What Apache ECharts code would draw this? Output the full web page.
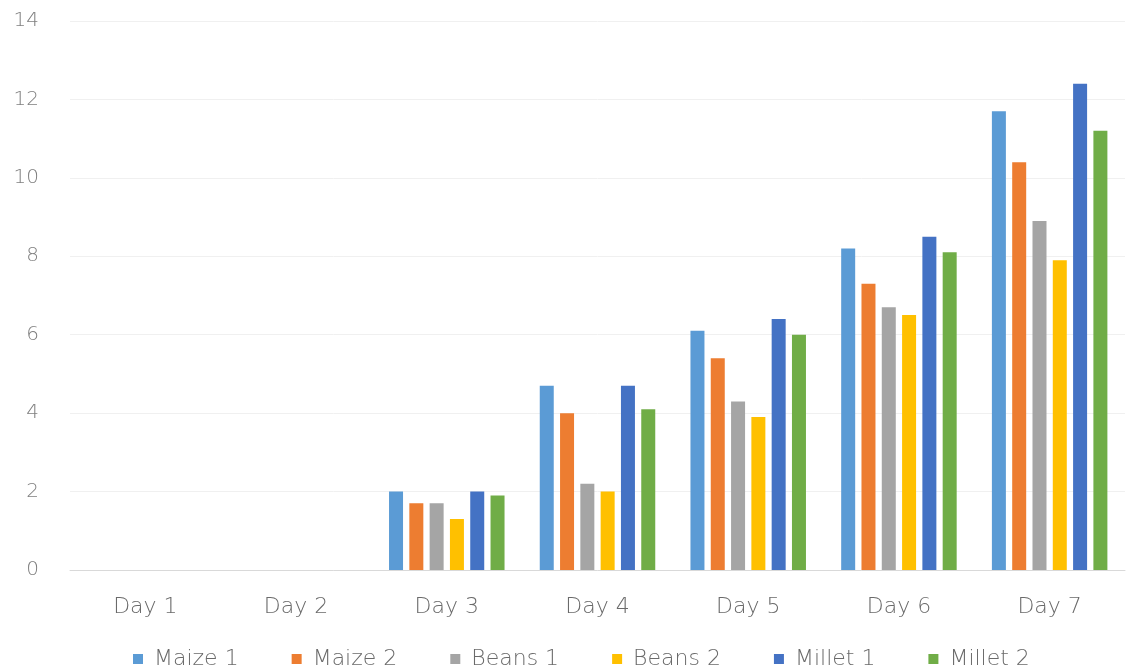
<!DOCTYPE html>
<html>
<head>
<meta charset="utf-8">
<script src="https://cdn.jsdelivr.net/npm/echarts@6/dist/echarts.min.js"></script>
<style>
  html, body { margin: 0; padding: 0; background: #fff; }
  #chart { width: 1126px; height: 667px; }
</style>
</head>
<body>
<div id="chart"></div>
<script>
// Crop growth (cm) over one week
const days = ['Day 1', 'Day 2', 'Day 3', 'Day 4', 'Day 5', 'Day 6', 'Day 7'];
const maize1  = [0, 0, 2.0, 4.7, 6.1, 8.2, 11.7];
const maize2  = [0, 0, 1.7, 4.0, 5.4, 7.3, 10.4];
const beans1  = [0, 0, 1.7, 2.2, 4.3, 6.7, 8.9];
const beans2  = [0, 0, 1.3, 2.0, 3.9, 6.5, 7.9];
const millet1 = [0, 0, 2.0, 4.7, 6.4, 8.5, 12.4];
const millet2 = [0, 0, 1.9, 4.1, 6.0, 8.1, 11.2];
const yTicks = { min: 0, max: 14, interval: 2 };

const seriesDefs = [
  ['Maize 1', maize1, '#5B9BD5'],
  ['Maize 2', maize2, '#ED7D31'],
  ['Beans 1', beans1, '#A5A5A5'],
  ['Beans 2', beans2, '#FFC000'],
  ['Millet 1', millet1, '#4472C4'],
  ['Millet 2', millet2, '#70AD47']
];

const font = '"DejaVu Sans", sans-serif';
const chart = echarts.init(document.getElementById('chart'));
chart.setOption({
  animation: false,
  textStyle: { fontFamily: font },
  grid: { left: 70, right: 1, top: 21, bottom: 97 },
  legend: {
    top: 643,
    left: 128,
    itemWidth: 10,
    itemHeight: 10,
    itemGap: 53,
    icon: 'rect',
    textStyle: { color: '#6a6a6a', fontSize: 22, fontWeight: 200, fontFamily: font, padding: [0, 0, 0, 6] },
    data: seriesDefs.map(s => s[0])
  },
  xAxis: {
    type: 'category',
    data: days,
    axisLine: { lineStyle: { color: '#d9d9d9', width: 1 } },
    axisTick: { show: false },
    axisLabel: { color: '#6a6a6a', fontSize: 22, fontWeight: 200, margin: 26, fontFamily: font }
  },
  yAxis: {
    type: 'value',
    min: yTicks.min,
    max: yTicks.max,
    interval: yTicks.interval,
    axisLine: { show: false },
    axisTick: { show: false },
    axisLabel: { color: '#7f7f7f', fontSize: 20, fontWeight: 200, margin: 31, fontFamily: font },
    splitLine: { lineStyle: { color: '#f0f0f0', width: 1 } }
  },
  series: seriesDefs.map(([name, data, color]) => ({
    name,
    type: 'bar',
    data,
    barWidth: 14,
    barGap: '45%',
    itemStyle: { color }
  }))
});
</script>
</body>
</html>
